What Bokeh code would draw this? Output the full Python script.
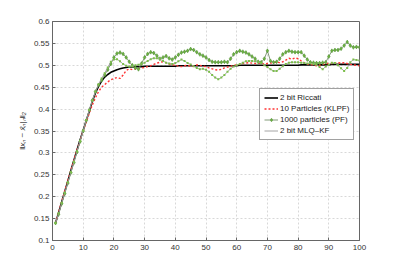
from bokeh.plotting import figure
from bokeh.models import FixedTicker, Legend, LegendItem
from bokeh.embed import file_html
from bokeh.resources import INLINE

steps = list(range(1, 101))

riccati = [0.140,0.164,0.188,0.212,0.236,0.260,0.284,0.307,0.330,0.352,
           0.374,0.395,0.418,0.437,0.452,0.464,0.473,0.479,0.484,0.487,
           0.490,0.492,0.494,0.495,0.496,0.496,0.497,0.497,0.497,0.498,
           0.498,0.498,0.498,0.498,0.498,0.498,0.498,0.498,0.498,0.498,
           0.499,0.499,0.499,0.499,0.499,0.499,0.499,0.499,0.499,0.499,
           0.499,0.499,0.499,0.499,0.499,0.499,0.499,0.499,0.499,0.499,
           0.500,0.500,0.500,0.500,0.500,0.500,0.500,0.500,0.500,0.500,
           0.500,0.500,0.500,0.500,0.500,0.500,0.500,0.500,0.500,0.500,
           0.501,0.501,0.501,0.501,0.501,0.501,0.501,0.501,0.501,0.501,
           0.502,0.502,0.502,0.502,0.502,0.502,0.502,0.502,0.502,0.502]

klpf = [0.140,0.165,0.189,0.213,0.237,0.261,0.284,0.307,0.329,0.350,
        0.371,0.391,0.410,0.426,0.440,0.450,0.456,0.462,0.467,0.470,
        0.472,0.470,0.478,0.488,0.492,0.490,0.492,0.493,0.494,0.495,
        0.497,0.499,0.502,0.505,0.507,0.508,0.506,0.503,0.501,0.500,
        0.498,0.497,0.499,0.500,0.498,0.499,0.501,0.500,0.498,0.497,
        0.494,0.492,0.490,0.489,0.491,0.494,0.496,0.498,0.500,0.501,
        0.502,0.504,0.505,0.506,0.505,0.504,0.505,0.504,0.503,0.504,
        0.505,0.506,0.507,0.506,0.508,0.512,0.516,0.514,0.517,0.515,
        0.510,0.506,0.503,0.502,0.501,0.499,0.500,0.502,0.503,0.505,
        0.504,0.505,0.506,0.505,0.506,0.504,0.502,0.501,0.500,0.499]

pf = [0.140,0.160,0.184,0.207,0.231,0.255,0.278,0.302,0.326,0.350,
      0.374,0.398,0.420,0.440,0.455,0.466,0.478,0.490,0.503,0.518,
      0.527,0.529,0.526,0.518,0.508,0.500,0.494,0.491,0.504,0.518,
      0.526,0.530,0.528,0.522,0.515,0.518,0.521,0.516,0.513,0.518,
      0.524,0.529,0.531,0.533,0.537,0.535,0.530,0.525,0.522,0.518,
      0.512,0.508,0.507,0.507,0.507,0.508,0.507,0.515,0.525,0.530,
      0.533,0.531,0.529,0.525,0.520,0.515,0.508,0.507,0.515,0.533,
      0.510,0.507,0.508,0.515,0.525,0.530,0.533,0.531,0.530,0.530,
      0.530,0.522,0.513,0.507,0.506,0.505,0.505,0.506,0.507,0.520,
      0.533,0.535,0.535,0.538,0.545,0.553,0.545,0.541,0.542,0.541]

mlq = [0.140,0.162,0.186,0.209,0.233,0.256,0.280,0.304,0.328,0.351,
       0.375,0.398,0.420,0.440,0.457,0.470,0.482,0.495,0.508,0.513,
       0.514,0.509,0.503,0.499,0.497,0.498,0.500,0.501,0.503,0.506,
       0.510,0.514,0.516,0.516,0.514,0.510,0.506,0.504,0.503,0.505,
       0.509,0.513,0.510,0.505,0.502,0.498,0.494,0.491,0.492,0.490,
       0.485,0.478,0.472,0.468,0.472,0.478,0.485,0.492,0.497,0.500,
       0.503,0.506,0.509,0.510,0.510,0.509,0.507,0.505,0.500,0.496,
       0.491,0.487,0.487,0.492,0.498,0.503,0.506,0.507,0.507,0.507,
       0.506,0.505,0.504,0.504,0.503,0.501,0.496,0.491,0.497,0.501,
       0.506,0.505,0.500,0.493,0.487,0.494,0.507,0.513,0.512,0.511]

x_ticks = [0, 10, 20, 30, 40, 50, 60, 70, 80, 90, 100]
y_ticks = [0.1, 0.15, 0.2, 0.25, 0.3, 0.35, 0.4, 0.45, 0.5, 0.55, 0.6]
y_tick_labels = ["0.1", "0.15", "0.2", "0.25", "0.3", "0.35", "0.4", "0.45", "0.5", "0.55", "0.6"]
legend_labels = ["2 bit Riccati", "10 Particles (KLPF)", "1000 particles (PF)", "2 bit MLQ\u2013KF"]

FONT = "Liberation Sans"

p = figure(width=390, height=264, output_backend="svg", toolbar_location=None,
           x_range=(0, 100), y_range=(0.1, 0.6),
           min_border_left=52, min_border_right=31, min_border_top=21, min_border_bottom=24)
p.background_fill_color = "white"
p.outline_line_color = "#666666"
p.outline_line_width = 1

for ax in (p.xaxis[0], p.yaxis[0]):
    ax.axis_line_color = "#666666"
    ax.major_tick_line_color = "#666666"
    ax.major_tick_in = 3
    ax.major_tick_out = 0
    ax.minor_tick_line_color = None
    ax.major_label_text_font = FONT
    ax.major_label_text_font_size = "8px"
    ax.major_label_text_color = "#333333"

p.xaxis.ticker = FixedTicker(ticks=x_ticks)
p.yaxis.ticker = FixedTicker(ticks=y_ticks)
p.yaxis.major_label_overrides = {t: l for t, l in zip(y_ticks, y_tick_labels)}
p.xaxis.major_label_standoff = 4
p.yaxis.major_label_standoff = 3

p.yaxis.axis_label = "\u2016x\u2099 \u2212 x\u0302\u2099|\u2099\u2016\u2082"
p.yaxis.axis_label_text_font = FONT
p.yaxis.axis_label_text_font_size = "8px"
p.yaxis.axis_label_text_font_style = "italic"
p.yaxis.axis_label_text_color = "#333333"
p.yaxis.axis_label_standoff = 4

p.xgrid.ticker = FixedTicker(ticks=x_ticks)
p.ygrid.ticker = FixedTicker(ticks=y_ticks)
for g in (p.xgrid[0], p.ygrid[0]):
    g.grid_line_color = "#d8d8d8"
    g.grid_line_dash = "2 2"
    g.grid_line_width = 1

r1 = p.line(steps, riccati, line_color="black", line_width=1.6)
r2 = p.line(steps, klpf, line_color="#ff3333", line_width=1.4, line_dash="2 2")
r3 = p.line(steps, pf, line_color="#75906a", line_width=0.9)
r3m = p.scatter(steps, pf, marker="diamond", size=4, fill_color="#6cb33e", line_color="#4a8a30", line_width=0.5)
r4 = p.line(steps, mlq, line_color="#9a9a9a", line_width=0.9)
r4m = p.scatter(steps, mlq, marker="square", size=2, fill_color="#7cc04a", line_color=None)

legend = Legend(items=[
    LegendItem(label=legend_labels[0], renderers=[r1]),
    LegendItem(label=legend_labels[1], renderers=[r2]),
    LegendItem(label=legend_labels[2], renderers=[r3, r3m]),
    LegendItem(label=legend_labels[3], renderers=[r4]),
], location=(207, 100))
legend.label_text_font = FONT
legend.label_text_font_size = "8px"
legend.label_text_color = "#222222"
legend.label_height = 9
legend.glyph_height = 9
legend.glyph_width = 14
legend.label_standoff = 2
legend.spacing = 2
legend.padding = 4
legend.margin = 0
legend.border_line_color = "#444444"
legend.border_line_width = 1
legend.background_fill_alpha = 1
p.add_layout(legend, "center")

open("out.html", "w").write(file_html(p, INLINE))
